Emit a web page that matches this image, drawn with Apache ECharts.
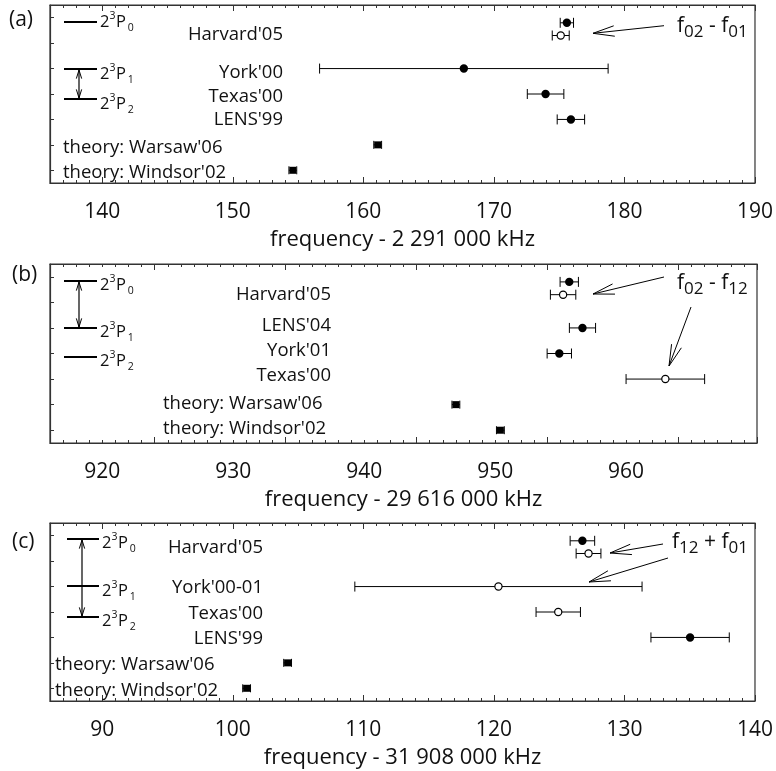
<!DOCTYPE html>
<html><head><meta charset="utf-8">
<script src="https://cdn.jsdelivr.net/npm/echarts@6/dist/echarts.min.js"></script>
<style>html,body{margin:0;padding:0;background:#fff;}#c{width:776px;height:771px;}</style>
</head><body><div id="c"></div>
<script>
// ---------- DATA ----------
// Panel (a): 2^3P1 - 2^3P2 interval, offset 2 291 000 kHz
const aTitle  = 'frequency - 2 291 000 kHz';
const aRange  = [136, 190];          // data scale
const aLabelRange = [136, 190];      // scale the tick labels are printed on
const aTicks  = ['140', '150', '160', '170', '180', '190'];
const aLabels = ["Harvard'05", "York'00", "Texas'00", "LENS'99", "theory: Warsaw'06", "theory: Windsor'02"];
const aValues = [175.59, 175.12, 167.70, 173.96, 175.90, 161.10, 154.60];
const aErrors = [0.51, 0.65, 11.05, 1.40, 1.05, 0.30, 0.30];
const aRows   = [0.2, 0.7, 2, 3, 4, 5, 6];
const aKinds  = ['filled', 'open', 'filled', 'filled', 'filled', 'theory', 'theory'];
const aAnnot  = ['f', '02', ' - ', 'f', '01'];

// Panel (b): 2^3P0 - 2^3P1 interval, offset 29 616 000 kHz
const bTitle  = 'frequency - 29 616 000 kHz';
const bRange  = [912, 966];
const bLabelRange = [916, 970];
const bTicks  = ['920', '930', '940', '950', '960'];
const bLabels = ["Harvard'05", "LENS'04", "York'01", "Texas'00", "theory: Warsaw'06", "theory: Windsor'02"];
const bValues = [951.66, 951.19, 952.67, 950.90, 959.00, 943.00, 946.40];
const bErrors = [0.70, 0.97, 1.00, 0.93, 3.00, 0.30, 0.30];
const bRows   = [0.2, 0.7, 2, 3, 4, 5, 6];
const bKinds  = ['filled', 'open', 'filled', 'filled', 'open', 'theory', 'theory'];
const bAnnot  = ['f', '02', ' - ', 'f', '12'];

// Panel (c): 2^3P0 - 2^3P2 interval, offset 31 908 000 kHz
const cTitle  = 'frequency - 31 908 000 kHz';
const cRange  = [86, 140];
const cLabelRange = [86, 140];
const cTicks  = ['90', '100', '110', '120', '130', '140'];
const cLabels = ["Harvard'05", "York'00-01", "Texas'00", "LENS'99", "theory: Warsaw'06", "theory: Windsor'02"];
const cValues = [126.78, 127.25, 120.35, 124.93, 135.03, 104.20, 101.06];
const cErrors = [0.94, 0.95, 11.00, 1.70, 3.00, 0.30, 0.30];
const cRows   = [0.2, 0.7, 2, 3, 4, 5, 6];
const cKinds  = ['filled', 'open', 'open', 'open', 'filled', 'theory', 'theory'];
const cAnnot  = ['f', '12', ' + ', 'f', '01'];

const panelTags  = ['(a)', '(b)', '(c)'];
const levelSubs  = ['0', '1', '2'];

// ---------- LAYOUT / STYLE ----------
const FONT = "'Open Sans', 'Noto Sans', sans-serif";
const INK = '#111';
const AXIS = '#333';
const LABEL_SIZE = 18.5;
const layout = [
  { top: 5, height: 178, tagY: 20, tagX: 9, labelRight: 283, theoryLeft: 63,
    labelRows: [0.61, 2.1, 3.05, 3.97, 5.05, 6.03],
    levels: { x1: 64, x2: 97, ys: [22, 69, 99], dy: [0.5, 5.5, 5.5], arrow: [1, 2], ax: 79 },
    annotX: 677, annotB: 33, arrows: [[664, 25.7, 593, 33.3]] },
  { top: 264, height: 179, tagY: 275, tagX: 12, labelRight: 331, theoryLeft: 163,
    labelRows: [0.64, 1.86, 2.84, 3.83, 4.9, 5.88],
    levels: { x1: 64, x2: 97, ys: [281, 328, 357], dy: [4, 4.5, 4.5], arrow: [0, 1], ax: 79 },
    annotX: 677, annotB: 290, arrows: [[664, 277, 593, 294], [691, 307, 669, 366]] },
  { top: 523, height: 178, tagY: 542, tagX: 12, labelRight: 263, theoryLeft: 55,
    labelRows: [0.43, 2.0, 3.0, 4.0, 5.0, 6.05],
    levels: { x1: 67, x2: 99, ys: [539, 586, 617], dy: [4, 5.5, 4], arrow: [0, 2], ax: 82 },
    annotX: 672, annotB: 549, arrows: [[663, 544, 610, 553], [668, 558, 589, 582]] }
];

const panels = [
  { title: aTitle, range: aRange, labelRange: aLabelRange, ticks: aTicks, labels: aLabels, values: aValues, errors: aErrors, rows: aRows, kinds: aKinds, annot: aAnnot },
  { title: bTitle, range: bRange, labelRange: bLabelRange, ticks: bTicks, labels: bLabels, values: bValues, errors: bErrors, rows: bRows, kinds: bKinds, annot: bAnnot },
  { title: cTitle, range: cRange, labelRange: cLabelRange, ticks: cTicks, labels: cLabels, values: cValues, errors: cErrors, rows: cRows, kinds: cKinds, annot: cAnnot }
];

function makeRender(p) {
  return function (params, api) {
    const v = api.value(0), row = api.value(1), err = api.value(2);
    const kind = p.kinds[params.dataIndex];
    const c = api.coord([v, row]);
    const lo = api.coord([v - err, row]);
    const hi = api.coord([v + err, row]);
    const cap = kind === 'theory' ? 4 : 5;
    const ls = { stroke: '#000', lineWidth: 1 };
    const ch = [
      { type: 'line', shape: { x1: lo[0], y1: c[1], x2: hi[0], y2: c[1] }, style: ls },
      { type: 'line', shape: { x1: lo[0], y1: c[1] - cap, x2: lo[0], y2: c[1] + cap }, style: ls },
      { type: 'line', shape: { x1: hi[0], y1: c[1] - cap, x2: hi[0], y2: c[1] + cap }, style: ls }
    ];
    if (kind === 'filled') {
      ch.push({ type: 'circle', shape: { cx: c[0], cy: c[1], r: 4.2 }, style: { fill: '#000' } });
    } else if (kind === 'open') {
      ch.push({ type: 'circle', shape: { cx: c[0], cy: c[1], r: 3.6 }, style: { fill: '#fff', stroke: '#000', lineWidth: 1.2 } });
    } else {
      ch.push({ type: 'rect', shape: { x: c[0] - 3.5, y: c[1] - 3.5, width: 7, height: 7 }, style: { fill: '#000' } });
    }
    return { type: 'group', children: ch };
  };
}

const chart = echarts.init(document.getElementById('c'), null, { renderer: 'canvas', width: 776, height: 771 });
const grids = [], xAxes = [], yAxes = [], series = [];
panels.forEach((p, i) => {
  const L = layout[i];
  grids.push({ left: 50, top: L.top, width: 707, height: L.height, show: true, borderColor: AXIS, borderWidth: 1.2 });
  const tickAxis = {
    type: 'value', gridIndex: i, min: p.range[0], max: p.range[1], splitNumber: 5,
    axisLine: { show: true, onZero: false, lineStyle: { color: AXIS, width: 1.2 } },
    axisTick: { show: true, inside: true, length: 6, lineStyle: { color: AXIS, width: 1 } },
    minorTick: { show: true, splitNumber: 10, length: 3, lineStyle: { color: AXIS, width: 1 } },
    splitLine: { show: false }, axisLabel: { show: false }
  };
  // 3 x-axes per grid: data/tick axis (bottom), tick axis (top), label axis (bottom)
  xAxes.push(Object.assign({}, tickAxis, { position: 'bottom' }));
  xAxes.push(Object.assign({}, tickAxis, { position: 'top' }));
  xAxes.push({
    type: 'value', gridIndex: i, position: 'bottom', min: p.labelRange[0], max: p.labelRange[1], splitNumber: 5,
    axisLine: { show: false, onZero: false }, axisTick: { show: false }, minorTick: { show: false }, splitLine: { show: false },
    axisLabel: { show: true, margin: 19, fontSize: 21, fontFamily: FONT, color: INK,
      formatter: v => (p.ticks.indexOf(String(v)) >= 0 ? String(v) : '') },
    name: p.title, nameLocation: 'middle', nameGap: 46,
    nameTextStyle: { fontSize: 22, fontFamily: FONT, color: INK }
  });
  yAxes.push({
    type: 'value', gridIndex: i, min: -0.5, max: 6.5, splitNumber: 7, inverse: true,
    axisLine: { show: true, onZero: false, lineStyle: { color: AXIS, width: 1.2 } },
    axisTick: { show: true, inside: true, length: 4, lineStyle: { color: AXIS } },
    axisLabel: { show: false }, splitLine: { show: false }
  });
  series.push({
    type: 'custom', xAxisIndex: 3 * i, yAxisIndex: i, animation: false, silent: true, clip: false,
    data: p.values.map((v, k) => [v, p.rows[k], p.errors[k]]),
    encode: { x: 0, y: 1 },
    renderItem: makeRender(p)
  });
});

chart.setOption({ animation: false, grid: grids, xAxis: xAxes, yAxis: yAxes, series: series });

// ---------- annotations (text labels, level diagrams, arrows) ----------
const mctx = document.createElement('canvas').getContext('2d');
function tw(text, size) { mctx.font = size + 'px ' + FONT; return mctx.measureText(text).width; }
function txt(text, x, y, size, align) {
  return { type: 'text', silent: true, z: 10,
    style: { text: text, x: x, y: y, font: size + 'px ' + FONT, fill: INK,
      textAlign: align || 'left', align: align || 'left', textVerticalAlign: 'middle', verticalAlign: 'middle' } };
}
function seg(x1, y1, x2, y2, w) {
  return { type: 'line', silent: true, z: 10, shape: { x1: x1, y1: y1, x2: x2, y2: y2 }, style: { stroke: '#000', lineWidth: w || 1 } };
}
function head(tx, ty, fx, fy, len, ang) {
  const a = Math.atan2(fy - ty, fx - tx);
  return [-ang, ang].map(d => seg(tx, ty, tx + len * Math.cos(a + d), ty + len * Math.sin(a + d), 1));
}

const gfx = [];
panels.forEach((p, i) => {
  const L = layout[i];
  const rowY = r => chart.convertToPixel({ gridIndex: i }, [p.range[0], r])[1];
  gfx.push(txt(panelTags[i], L.tagX, L.tagY, 21, 'left'));
  p.labels.forEach((lab, k) => {
    const y = rowY(L.labelRows[k]) + 1.5;
    if (lab.indexOf('theory') === 0) gfx.push(txt(lab, L.theoryLeft, y, LABEL_SIZE, 'left'));
    else gfx.push(txt(lab, L.labelRight, y, LABEL_SIZE, 'right'));
  });
  const lv = L.levels;
  lv.ys.forEach((ly, k) => {
    gfx.push(seg(lv.x1, ly, lv.x2, ly, 2));
    const cy = ly + lv.dy[k];
    let x = lv.x2 + 3;
    gfx.push(txt('2', x, cy, 16.5)); x += tw('2', 16.5);
    gfx.push(txt('3', x, cy - 6, 10.5)); x += tw('3', 10.5) + 0.5;
    gfx.push(txt('P', x, cy, 16.5)); x += tw('P', 16.5) + 2;
    gfx.push(txt(levelSubs[k], x, cy + 6, 10.5));
  });
  const ya = lv.ys[lv.arrow[0]], yb = lv.ys[lv.arrow[1]];
  gfx.push(seg(lv.ax, ya + 1, lv.ax, yb - 1, 1.2));
  head(lv.ax, ya + 1, lv.ax, yb, 9, 0.3).forEach(e => gfx.push(e));
  head(lv.ax, yb - 1, lv.ax, ya, 9, 0.3).forEach(e => gfx.push(e));
  let x = L.annotX;
  p.annot.forEach(piece => {
    const sub = /^\d+$/.test(piece);
    const size = sub ? 17 : 21;
    const y = sub ? L.annotB - 1 : L.annotB - 7;
    gfx.push(txt(piece, x, y, size, 'left'));
    x += tw(piece, size);
  });
  L.arrows.forEach(a => {
    gfx.push(seg(a[0], a[1], a[2], a[3], 1));
    head(a[2], a[3], a[0], a[1], 22, 0.24).forEach(e => gfx.push(e));
  });
});
chart.setOption({ graphic: { elements: gfx } });
</script>
</body></html>
